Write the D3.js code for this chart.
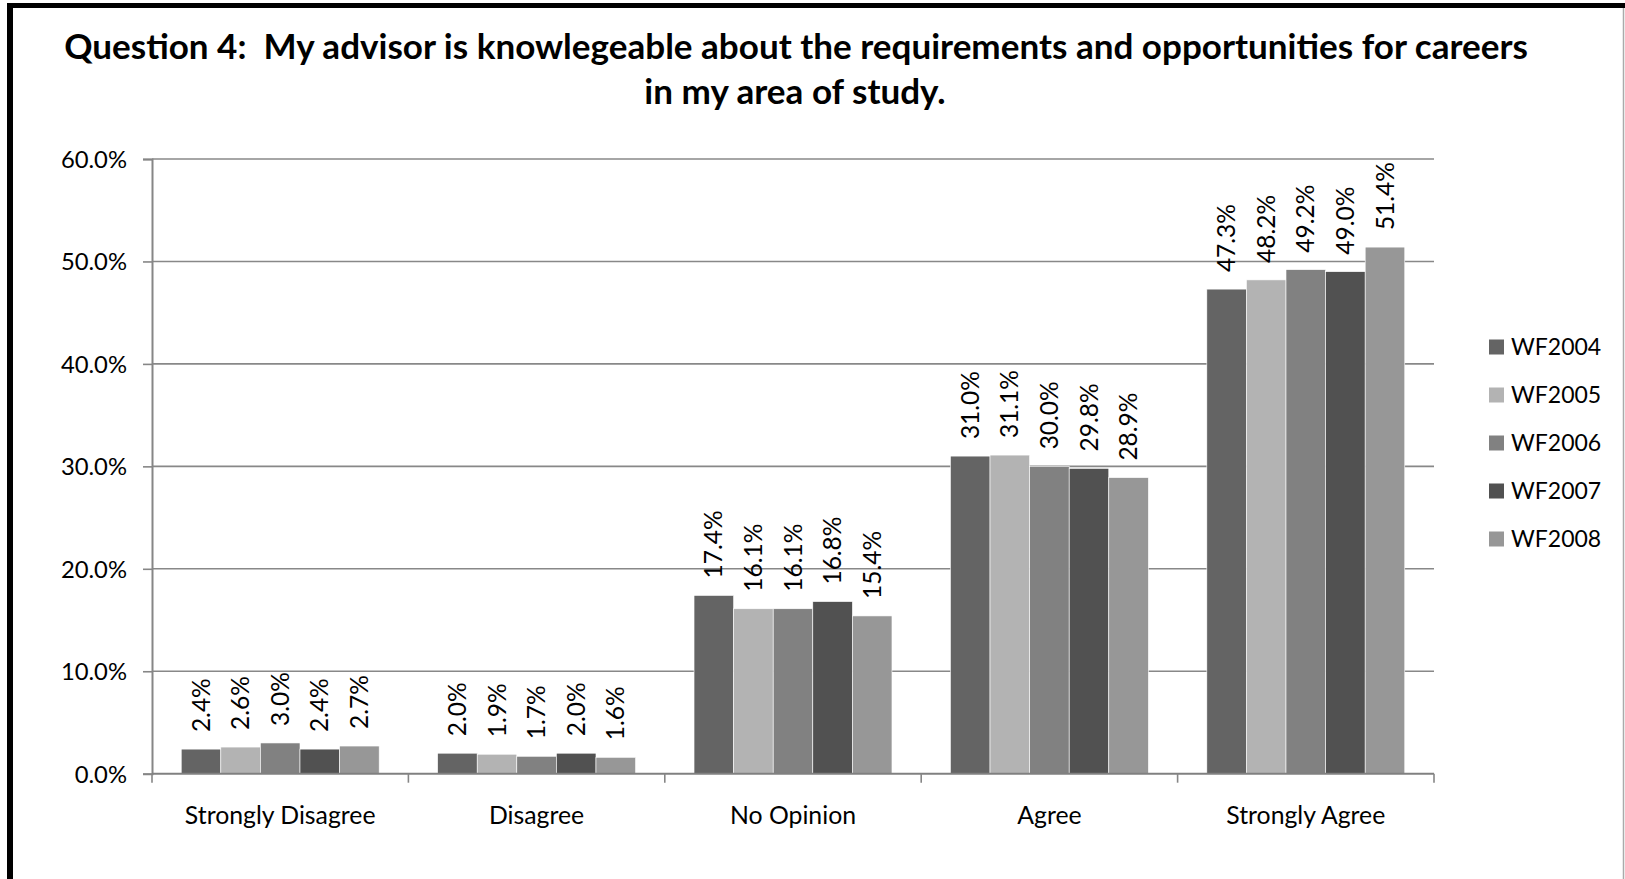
<!DOCTYPE html>
<html>
<head>
<meta charset="utf-8">
<script src="https://cdn.jsdelivr.net/npm/d3@7"></script>
<style>
  html, body { margin: 0; padding: 0; background: #fff; }
  svg { display: block; }
  text { font-family: Lato, "Open Sans", sans-serif; fill: #000; white-space: pre; }
</style>
</head>
<body>
<svg id="chart" width="1625" height="879"></svg>
<script>
// Survey responses, share of respondents per answer and cohort
const categories = ["Strongly Disagree", "Disagree", "No Opinion", "Agree", "Strongly Agree"];
const seriesNames = ["WF2004", "WF2005", "WF2006", "WF2007", "WF2008"];
const wf2004 = [2.4, 2.0, 17.4, 31.0, 47.3];
const wf2005 = [2.6, 1.9, 16.1, 31.1, 48.2];
const wf2006 = [3.0, 1.7, 16.1, 30.0, 49.2];
const wf2007 = [2.4, 2.0, 16.8, 29.8, 49.0];
const wf2008 = [2.7, 1.6, 15.4, 28.9, 51.4];
const seriesValues = [wf2004, wf2005, wf2006, wf2007, wf2008];
const yTicks = [0, 10, 20, 30, 40, 50, 60];
const titleLines = [
  "Question 4:  My advisor is knowlegeable about the requirements and opportunities for careers",
  "in my area of study."
];
const seriesColors = ["#646464", "#b3b3b3", "#818181", "#515151", "#979797"];

const svg = d3.select("#chart");

// outer frame
svg.append("line").attr("x1", 7).attr("x2", 1625).attr("y1", 5.5).attr("y2", 5.5)
  .attr("stroke", "#000").attr("stroke-width", 5);
svg.append("line").attr("x1", 10).attr("x2", 10).attr("y1", 3).attr("y2", 879)
  .attr("stroke", "#000").attr("stroke-width", 6);
svg.append("line").attr("x1", 1623.5).attr("x2", 1623.5).attr("y1", 8).attr("y2", 879)
  .attr("stroke", "#aaa").attr("stroke-width", 1.5);

// title, fitted to its line width
const title = svg.append("g");
const t1 = title.append("text").attr("x", 796).attr("y", 59).attr("text-anchor", "middle")
  .attr("xml:space", "preserve")
  .attr("font-weight", 700).attr("font-size", 32).text(titleLines[0]);
const fit = 32 * 1464 / t1.node().getComputedTextLength();
t1.attr("font-size", fit);
title.append("text").attr("x", 795).attr("y", 104).attr("text-anchor", "middle")
  .attr("font-weight", 700).attr("font-size", fit).text(titleLines[1]);

// plot area
const plotLeft = 152, plotRight = 1434, plotTop = 159, plotBottom = 773.7;
const y = d3.scaleLinear().domain([0, 60]).range([plotBottom, plotTop]);
const x = d3.scaleBand().domain(categories).range([plotLeft, plotRight]).paddingInner(0).paddingOuter(0);
const groupPad = x.bandwidth() * 0.114;
const xs = d3.scaleBand().domain(seriesNames).range([groupPad, x.bandwidth() - groupPad]).padding(0);

// gridlines
svg.append("g").selectAll("line").data(yTicks.filter(d => d > 0)).join("line")
  .attr("x1", plotLeft).attr("x2", plotRight).attr("y1", d => y(d)).attr("y2", d => y(d))
  .attr("stroke", "#888").attr("stroke-width", 1.6);

// y axis
const yAxis = svg.append("g").attr("transform", `translate(${plotLeft},0)`)
  .call(d3.axisLeft(y).tickValues(yTicks).tickSize(9).tickPadding(16)
    .tickFormat(d => d.toFixed(1) + "%"));
yAxis.select(".domain").attr("stroke", "#868686").attr("stroke-width", 2);
yAxis.selectAll(".tick line").attr("stroke", "#868686").attr("stroke-width", 1.6);
yAxis.selectAll(".tick text").attr("font-size", 23.8).attr("font-family", "Lato, sans-serif")
  .attr("fill", "#000").attr("dy", "0.35em");

// bars
const groups = svg.append("g").selectAll("g").data(categories).join("g")
  .attr("transform", d => `translate(${x(d)},0)`);
groups.selectAll("rect")
  .data((c, ci) => seriesNames.map((s, si) => ({ s, si, v: seriesValues[si][ci] })))
  .join("rect")
  .attr("x", d => xs(d.s)).attr("width", xs.bandwidth())
  .attr("y", d => y(d.v)).attr("height", d => y(0) - y(d.v))
  .attr("fill", d => seriesColors[d.si])
  .attr("stroke", "#fff").attr("stroke-width", 0.6);

// value labels, rotated above each bar
groups.selectAll("text.val")
  .data((c, ci) => seriesNames.map((s, si) => ({ s, si, v: seriesValues[si][ci] })))
  .join("text").attr("class", "val")
  .attr("transform", d => `translate(${xs(d.s) + xs.bandwidth() / 2},${y(d.v) - 17}) rotate(-90)`)
  .attr("dy", "0.35em").attr("font-size", 24.5)
  .text(d => d.v.toFixed(1) + "%");

// x axis
const xAxis = svg.append("g").attr("transform", `translate(0,${plotBottom})`);
xAxis.append("line").attr("x1", plotLeft).attr("x2", plotRight).attr("y1", 0).attr("y2", 0)
  .attr("stroke", "#808080").attr("stroke-width", 2);
xAxis.selectAll("line.tk").data(d3.range(categories.length + 1)).join("line").attr("class", "tk")
  .attr("x1", i => plotLeft + i * x.bandwidth()).attr("x2", i => plotLeft + i * x.bandwidth())
  .attr("y1", 0).attr("y2", 9).attr("stroke", "#868686").attr("stroke-width", 1.6);
xAxis.selectAll("text").data(categories).join("text")
  .attr("x", d => x(d) + x.bandwidth() / 2).attr("y", 50)
  .attr("text-anchor", "middle").attr("font-size", 24.8).text(d => d);

// legend
const legend = svg.append("g").selectAll("g").data(seriesNames).join("g")
  .attr("transform", (d, i) => `translate(1489,${347 + i * 48})`);
legend.append("rect").attr("x", 0).attr("y", -7.5).attr("width", 15).attr("height", 15)
  .attr("fill", (d, i) => seriesColors[i]);
legend.append("text").attr("x", 22).attr("y", 0).attr("dy", "0.35em")
  .attr("font-size", 23).text(d => d);
</script>
</body>
</html>
